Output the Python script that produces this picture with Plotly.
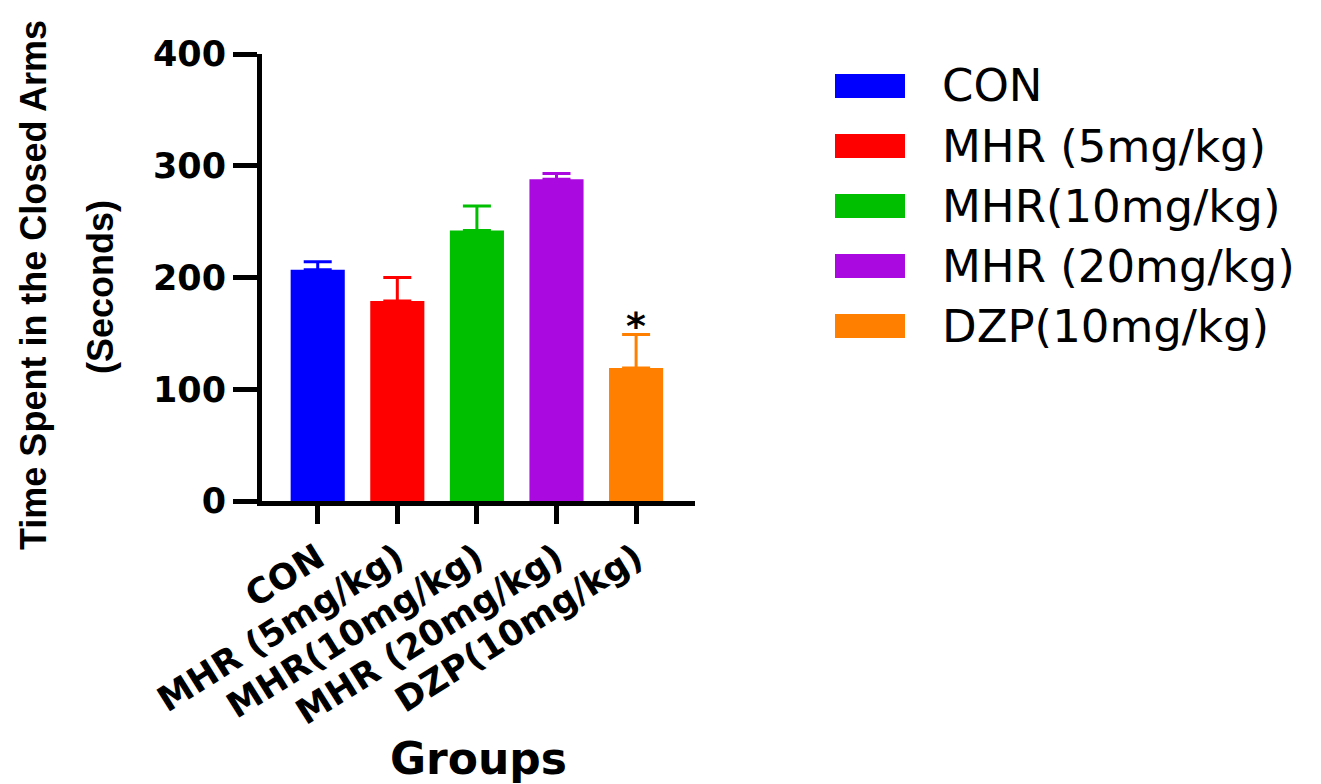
import plotly.graph_objects as go

# Elevated plus maze: time spent in the closed arms per treatment group
groups = ["CON", "MHR (5mg/kg)", "MHR(10mg/kg)", "MHR (20mg/kg)", "DZP(10mg/kg)"]
mean_time = [207, 179, 242, 288, 119]
sem_time = [7, 21, 22, 5, 30]
bar_colors = ["#0000FF", "#FF0000", "#00BE00", "#AA0AE0", "#FF8000"]
significance = ["", "", "", "", "*"]
y_ticks = [0, 100, 200, 300, 400]

W, H = 1321, 784
L, R, T, B = 262, 626, 54, 283
plot_w = W - L - R
plot_h = H - T - B


def px_x(px):
    return (px - L) / plot_w


def px_y(py):
    return (H - B - py) / plot_h


fig = go.Figure()
fig.add_trace(go.Bar(
    x=list(range(len(groups))),
    y=mean_time,
    width=0.68,
    marker=dict(color=bar_colors, line=dict(width=0)),
    showlegend=False,
))

# upward-only SEM whiskers, each in its bar's colour
for i, (m, s, c) in enumerate(zip(mean_time, sem_time, bar_colors)):
    fig.add_trace(go.Scatter(
        x=[i], y=[m], mode="markers",
        marker=dict(size=1, color="rgba(0,0,0,0)"),
        error_y=dict(type="data", symmetric=False, array=[s], arrayminus=[0],
                     color=c, thickness=3, width=14),
        showlegend=False, hoverinfo="skip",
    ))

# significance markers above the error bars
for i, (m, s, star) in enumerate(zip(mean_time, sem_time, significance)):
    if star:
        fig.add_annotation(x=i, y=m + s, text="<b>" + star + "</b>", showarrow=False,
                           yanchor="bottom", yshift=-16,
                           font=dict(family="DejaVu Sans", size=38, color="black"))

fig.update_xaxes(
    range=[-0.70, 4.74],
    tickmode="array", tickvals=list(range(len(groups))), ticktext=groups,
    tickangle=-32,
    showline=True, linecolor="black", linewidth=5,
    ticks="outside", ticklen=18, tickwidth=5, tickcolor="black",
    tickfont=dict(family="DejaVu Sans", size=35, color="black", weight="bold"),
    showgrid=False, zeroline=False,
)
fig.update_yaxes(
    range=[0, 400],
    tickmode="array", tickvals=y_ticks,
    showline=True, linecolor="black", linewidth=5,
    ticks="outside", ticklen=24, tickwidth=5, tickcolor="black",
    tickfont=dict(family="DejaVu Sans", size=35, color="black", weight="bold"),
    showgrid=False, zeroline=False,
)

# axis titles
fig.add_annotation(xref="paper", yref="paper", x=px_x(478), y=px_y(758),
                   text="<b>Groups</b>", showarrow=False,
                   xanchor="center", yanchor="middle",
                   font=dict(family="DejaVu Sans", size=44, color="black"))
title_font = dict(family="Liberation Sans, Arial, sans-serif", size=36,
                  color="black", weight=900)
fig.add_annotation(xref="paper", yref="paper", x=px_x(33), y=px_y(285),
                   text="Time Spent in the Closed Arms", textangle=-90,
                   showarrow=False, xanchor="center", yanchor="middle",
                   font=title_font)
fig.add_annotation(xref="paper", yref="paper", x=px_x(100), y=px_y(287),
                   text="(Seconds)", textangle=-90,
                   showarrow=False, xanchor="center", yanchor="middle",
                   font=title_font)

# legend: wide colour swatches with labels
for i, (name, c) in enumerate(zip(groups, bar_colors)):
    cy = 86 + 60 * i
    fig.add_shape(type="rect", xref="paper", yref="paper",
                  x0=px_x(835), x1=px_x(905), y0=px_y(cy + 12), y1=px_y(cy - 12),
                  fillcolor=c, line=dict(width=0))
    fig.add_annotation(xref="paper", yref="paper", x=px_x(940), y=px_y(cy),
                       text=name, showarrow=False, xanchor="left", yanchor="middle",
                       font=dict(family="DejaVu Sans", size=45, color="black"))

fig.update_layout(
    width=W, height=H,
    margin=dict(l=L, r=R, t=T, b=B),
    plot_bgcolor="white", paper_bgcolor="white",
    bargap=0.3,
)

fig.write_html("out.html")
